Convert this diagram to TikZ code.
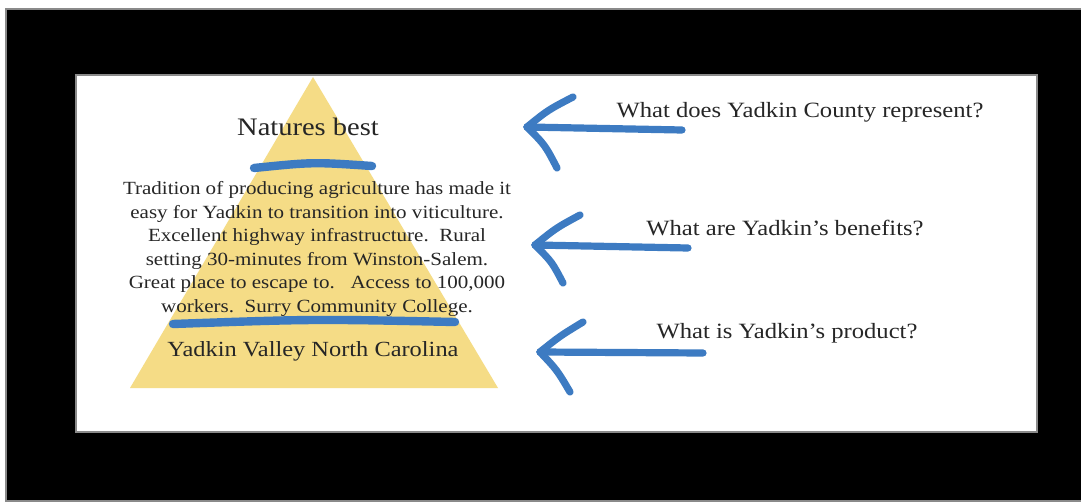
\documentclass[tikz,border=0pt]{standalone}
\usepackage{fontspec}
\setmainfont{Liberation Serif}[FakeStretch=1.13]
\usepackage{xcolor}
\definecolor{yadkinBlue}{HTML}{3D7BC2}
\definecolor{yadkinYellow}{HTML}{F5DC86}
\definecolor{yadkinText}{HTML}{262626}
\definecolor{yadkinFrame}{HTML}{8A8A8A}
\usepackage{tikz}
\usetikzlibrary{calc}

\begin{document}
\begin{tikzpicture}[x=0.5pt,y=-0.5pt]
  \tikzset{
    bluestroke/.style={
      draw=yadkinBlue,
      line width=4.2pt,
      line cap=round,
      line join=round
    },
    arrowstroke/.style={bluestroke,line width=3.6pt},
    pyrtext/.style={text=yadkinText, inner sep=0pt, align=center},
    question/.style={text=yadkinText, inner sep=0pt, font=\fontsize{10.9}{13}\selectfont}
  }
  \path[use as bounding box] (0,0) rectangle (1081,502);
  \fill[white] (0,0) rectangle (1081,502);
  \draw[fill=black,draw=yadkinFrame,line width=1pt] (6,9) rectangle (1090,501);
  \draw[fill=white,draw=yadkinFrame,line width=0.8pt] (76,75) rectangle (1037,432);

  \fill[yadkinYellow] (313,77) -- (498,388) -- (130,388) -- cycle;

  \node[pyrtext,font=\fontsize{12.6}{15}\selectfont] (top) at (308,127) {Natures best};
  \draw[bluestroke] (254,168) .. controls (313,162) .. (372,166);
  \node[pyrtext,font=\fontsize{9.3}{11.8}\selectfont] (mid) at (317,249) {Tradition of producing agriculture has made it\\
    easy for Yadkin to transition into viticulture.\\
    Excellent highway infrastructure.\ \ Rural\\
    setting 30-minutes from Winston-Salem.\\
    Great place to escape to.\ \ \ Access to 100,000\\
    workers.\ \ Surry Community College.};
  \draw[bluestroke] (173,324) .. controls (314,319) .. (455,322);
  \node[pyrtext,font=\fontsize{10.8}{13}\selectfont] (base) at (313,351) {Yadkin Valley North Carolina};

  \coordinate (tipA) at (527,127);
  \coordinate (tailA) at (682,130);
  \coordinate (tipB) at (535,245);
  \coordinate (tailB) at (688,248);
  \coordinate (tipC) at (540,352);
  \coordinate (tailC) at (703,353);
  \draw[arrowstroke] (tailA) -- (tipA);
  \draw[arrowstroke] (tipA) .. controls (548,110) .. (573,97);
  \draw[arrowstroke] (tipA) .. controls (545,145) .. (557,168);
  \draw[arrowstroke] (tailB) -- (tipB);
  \draw[arrowstroke] (tipB) .. controls (556,228) .. (580,215);
  \draw[arrowstroke] (tipB) .. controls (552,262) .. (563,283);
  \draw[arrowstroke] (tailC) -- (tipC);
  \draw[arrowstroke] (tipC) .. controls (560,336) .. (583,322);
  \draw[arrowstroke] (tipC) .. controls (557,370) .. (570,392);

  \node[question] (qA) at (800,112) {What does Yadkin County represent?};
  \node[question] (qB) at (785,228) {What are Yadkin's benefits?};
  \node[question] (qC) at (787,333) {What is Yadkin's product?};
\end{tikzpicture}
\end{document}
